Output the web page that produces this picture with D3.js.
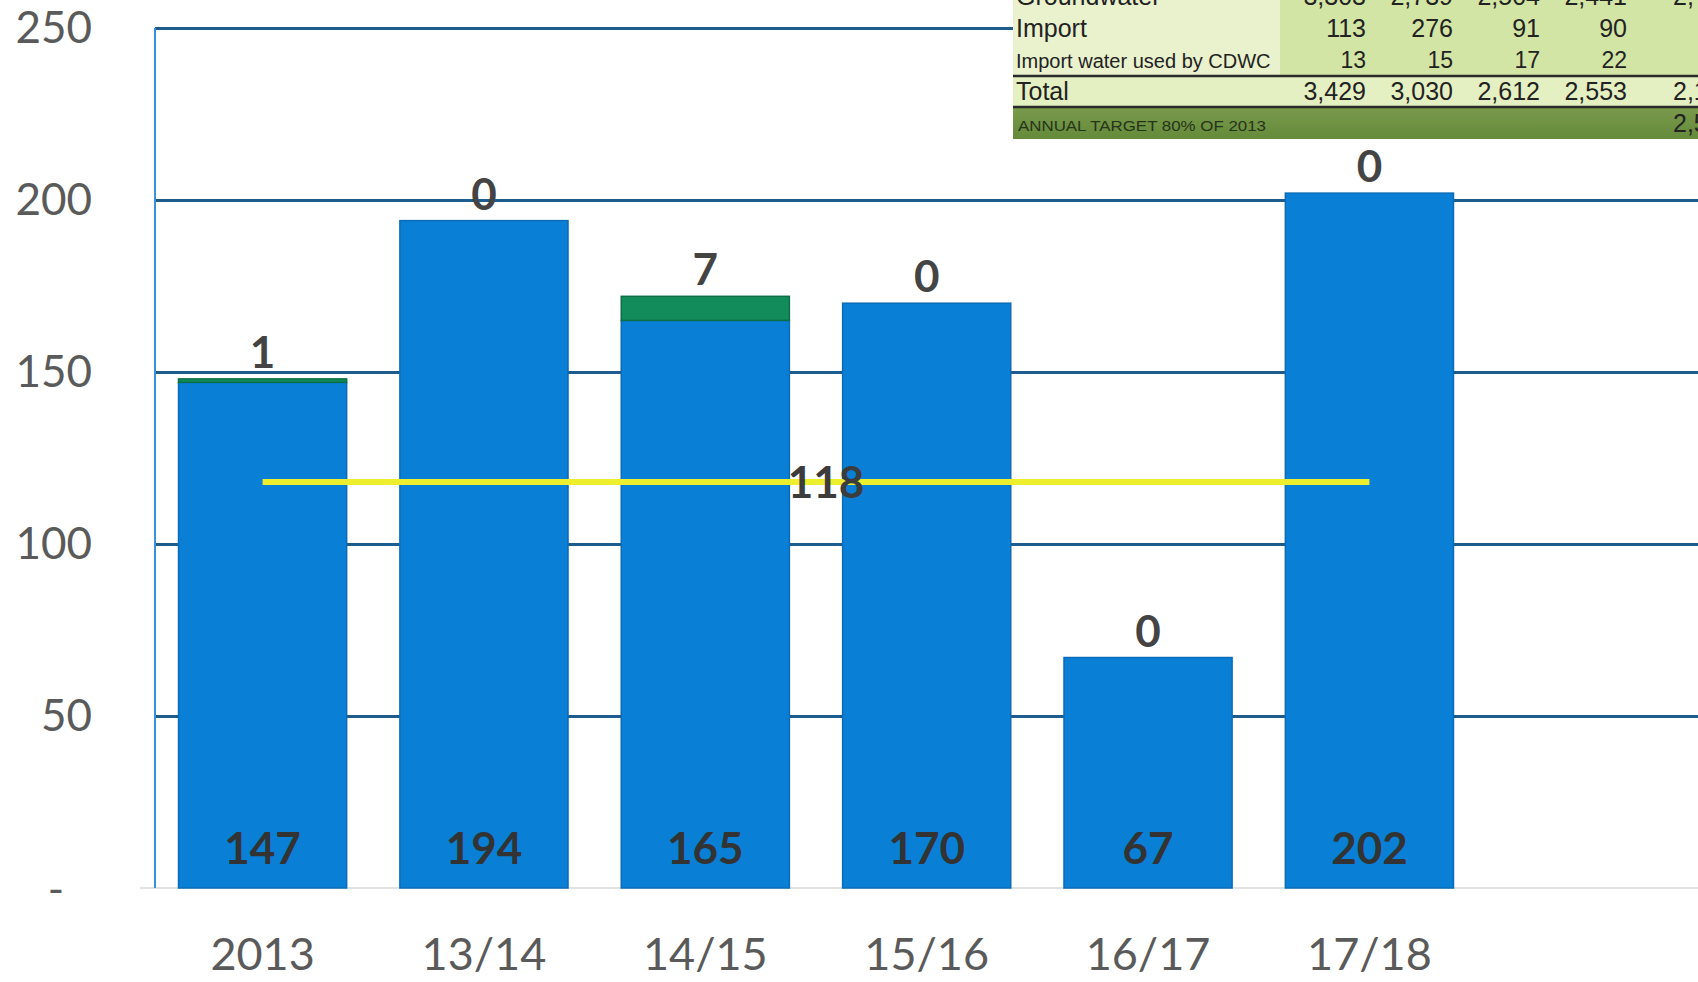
<!DOCTYPE html>
<html>
<head>
<meta charset="utf-8">
<script src="https://cdn.jsdelivr.net/npm/d3@7"></script>
<style>
  html, body { margin: 0; padding: 0; background: #ffffff; }
  svg { display: block; }
</style>
</head>
<body>
<svg id="chart" width="1698" height="982"></svg>
<script>
// ---- data ----
const categories = ["2013", "13/14", "14/15", "15/16", "16/17", "17/18"];
const mainValues = [147, 194, 165, 170, 67, 202];
const extraValues = [1, 0, 7, 0, 0, 0];
const targetValue = 118;
const yTicks = [0, 50, 100, 150, 200, 250];

// table (pasted overlay, top right)
const tableRows = ["Groundwater", "Import", "Import water used by CDWC", "Total"];
const groundwaterVals = ["3,303", "2,739", "2,504", "2,441"];
const importVals = ["113", "276", "91", "90"];
const cdwcVals = ["13", "15", "17", "22"];
const totalVals = ["3,429", "3,030", "2,612", "2,553"];
const cutVals = ["2,", "", "", "2,1"];     // partially visible 5th column
const targetLabel = "ANNUAL TARGET 80% OF 2013";
const targetCut = "2,5";

(function () {
// ---- layout ----
const W = 1698, H = 982;
const leftX = 155, topY = 28, bottomY = 888;
const svg = d3.select("#chart");

const y = d3.scaleLinear().domain([0, 250]).range([bottomY, topY]);
const x = d3.scaleBand().domain(categories)
  .range([leftX, 1477]).paddingInner(0.236).paddingOuter(0.104);

const data = categories.map((c, i) => ({ cat: c, main: mainValues[i], extra: extraValues[i] }));
const stack = d3.stack().keys(["main", "extra"]);
const series = stack(data);
const colors = { main: "#0a7fd6", extra: "#138c5b" };
const strokes = { main: "#0a6cb8", extra: "#0c6e45" };

// gridlines
const grid = svg.append("g").attr("transform", `translate(${leftX},0)`)
  .call(d3.axisLeft(y).tickValues(yTicks.filter(d => d > 0)).tickSize(-(W - leftX)).tickFormat(""));
grid.select(".domain").remove();
grid.selectAll("line").attr("stroke", "#1d5c8e").attr("stroke-width", 3);

// baseline
svg.append("line").attr("x1", 140).attr("x2", W).attr("y1", y(0)).attr("y2", y(0))
  .attr("stroke", "#e2e2e2").attr("stroke-width", 2);

// left axis line
svg.append("line").attr("x1", leftX).attr("x2", leftX).attr("y1", y(250)).attr("y2", y(0))
  .attr("stroke", "#3a90d6").attr("stroke-width", 2);

// y tick labels
const yAxis = svg.append("g").attr("transform", `translate(${leftX},0)`)
  .call(d3.axisLeft(y).tickValues(yTicks).tickSize(0).tickPadding(63)
    .tickFormat(d => d === 0 ? "-" : d));
yAxis.select(".domain").remove();
yAxis.selectAll("text")
  .attr("font-family", "Lato, 'Open Sans', sans-serif")
  .attr("font-size", 44).attr("fill", "#5a5a5a");
yAxis.selectAll(".tick").filter(d => d === 0).select("text").attr("x", -91).attr("dy", "0.38em");

// bars
const barG = svg.append("g").selectAll("g").data(series).join("g")
  .attr("fill", d => colors[d.key]).attr("stroke", d => strokes[d.key]);
barG.selectAll("rect").data(d => d.filter(s => s[1] - s[0] > 0)).join("rect")
  .attr("x", d => x(d.data.cat) + 0.5)
  .attr("width", x.bandwidth() - 1)
  .attr("y", d => y(d[1]))
  .attr("height", d => y(d[0]) - y(d[1]))
  .attr("stroke-width", 1.5);

// x axis labels
const xAxis = svg.append("g").attr("transform", `translate(0,${bottomY})`)
  .call(d3.axisBottom(x).tickSize(0).tickPadding(50));
xAxis.select(".domain").remove();
xAxis.selectAll("text")
  .attr("font-family", "Lato, 'Open Sans', sans-serif")
  .attr("font-size", 45).attr("fill", "#5a5a5a");

// value labels inside bars (bottom)
svg.append("g").selectAll("text").data(data).join("text")
  .attr("x", d => x(d.cat) + x.bandwidth() / 2)
  .attr("y", y(0) - 24)
  .attr("text-anchor", "middle")
  .attr("font-family", "Lato, sans-serif").attr("font-weight", 700)
  .attr("font-size", 44).attr("fill", "#333333")
  .text(d => d.main);

// extra labels on top
svg.append("g").selectAll("text").data(data).join("text")
  .attr("x", d => x(d.cat) + x.bandwidth() / 2)
  .attr("y", d => y(d.main + d.extra) - 11)
  .attr("text-anchor", "middle")
  .attr("font-family", "Lato, sans-serif").attr("font-weight", 700)
  .attr("font-size", 44).attr("fill", "#444444")
  .text(d => d.extra);

// target line
const tx1 = x(categories[0]) + x.bandwidth() / 2;
const tx2 = x(categories[categories.length - 1]) + x.bandwidth() / 2;
svg.append("line").attr("x1", tx1).attr("x2", tx2)
  .attr("y1", y(targetValue)).attr("y2", y(targetValue))
  .attr("stroke", "#ecee2e").attr("stroke-width", 6);
svg.append("text")
  .attr("x", (tx1 + tx2) / 2 + 10).attr("y", y(targetValue) + 16)
  .attr("text-anchor", "middle")
  .attr("font-family", "Lato, sans-serif").attr("font-weight", 700)
  .attr("font-size", 44).attr("fill", "#3c3c3c")
  .text(targetValue);

// ---- pasted table overlay ----
const tb = svg.append("g");
const tx0 = 1013, valX0 = 1280;
const narrow = "'Liberation Sans Narrow', 'Arial Narrow', 'Liberation Sans', sans-serif";
tb.append("rect").attr("x", tx0).attr("y", 0).attr("width", valX0 - tx0).attr("height", 76).attr("fill", "#e9f1cd");
tb.append("rect").attr("x", valX0).attr("y", 0).attr("width", W - valX0).attr("height", 76).attr("fill", "#d3e5a5");
tb.append("rect").attr("x", tx0).attr("y", 76).attr("width", W - tx0).attr("height", 32).attr("fill", "#e5f0c2");
const grad = svg.append("defs").append("linearGradient").attr("id", "band").attr("x1", 0).attr("y1", 0).attr("x2", 0).attr("y2", 1);
grad.append("stop").attr("offset", 0).attr("stop-color", "#7a9a4c");
grad.append("stop").attr("offset", 1).attr("stop-color", "#648a3a");
tb.append("rect").attr("x", tx0).attr("y", 108).attr("width", W - tx0).attr("height", 31).attr("fill", "url(#band)");
tb.append("line").attr("x1", tx0).attr("x2", W).attr("y1", 76).attr("y2", 76).attr("stroke", "#2a2a2a").attr("stroke-width", 2.5);
tb.append("line").attr("x1", tx0).attr("x2", W).attr("y1", 107).attr("y2", 107).attr("stroke", "#2a2a2a").attr("stroke-width", 2.5);

const rowBase = [5, 37, 68, 100];
const rowSize = [25, 25, 20, 25];
tb.selectAll("text.rl").data(tableRows).join("text").attr("class", "rl")
  .attr("x", tx0 + 3).attr("y", (d, i) => rowBase[i])
  .attr("font-family", narrow).attr("font-size", (d, i) => rowSize[i])
  .attr("fill", "#222").text(d => d);

const colRight = [1366, 1453, 1540, 1627];
const rowsVals = [groundwaterVals, importVals, cdwcVals, totalVals];
rowsVals.forEach((vals, r) => {
  tb.append("g").selectAll("text").data(vals).join("text")
    .attr("x", (d, i) => colRight[i]).attr("y", rowBase[r])
    .attr("text-anchor", "end")
    .attr("font-family", narrow).attr("font-size", r === 2 ? 23 : 25)
    .attr("fill", "#222").text(d => d);
  if (cutVals[r]) {
    tb.append("text").attr("x", 1673).attr("y", rowBase[r])
      .attr("font-family", narrow).attr("font-size", 25)
      .attr("fill", "#222").text(cutVals[r]);
  }
});
tb.append("text").attr("x", tx0 + 5).attr("y", 131)
  .attr("font-family", "'Liberation Sans', Arial, sans-serif").attr("font-size", 15)
  .attr("textLength", 248).attr("lengthAdjust", "spacingAndGlyphs")
  .attr("fill", "#26341a").text(targetLabel);
tb.append("text").attr("x", 1673).attr("y", 132)
  .attr("font-family", narrow).attr("font-size", 25)
  .attr("fill", "#222").text(targetCut);
})();
</script>
</body>
</html>
